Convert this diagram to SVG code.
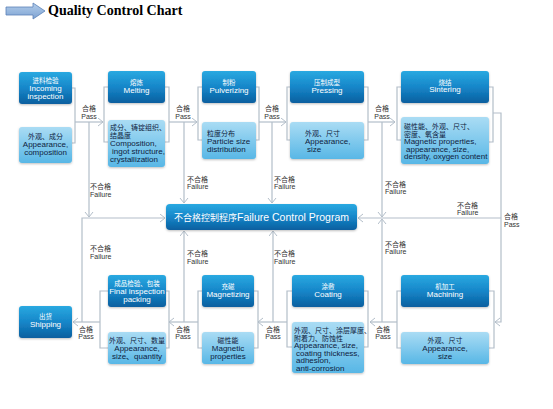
<svg xmlns="http://www.w3.org/2000/svg" width="553" height="409" viewBox="0 0 553 409">
<defs>
<linearGradient id="gd" x1="0" y1="0" x2="0" y2="1">
<stop offset="0" stop-color="#2aa9e1"/><stop offset="0.5" stop-color="#1686c9"/><stop offset="1" stop-color="#0a5f9f"/>
</linearGradient>
<linearGradient id="gl" x1="0" y1="0" x2="0" y2="1">
<stop offset="0" stop-color="#aadcf4"/><stop offset="1" stop-color="#58b7e6"/>
</linearGradient>
<linearGradient id="ga" x1="0" y1="0" x2="0" y2="1">
<stop offset="0" stop-color="#b3cdea"/><stop offset="1" stop-color="#7ea3d3"/>
</linearGradient>
<filter id="sh" x="-10%" y="-10%" width="120%" height="130%">
<feDropShadow dx="0" dy="1" stdDeviation="0.8" flood-color="#000" flood-opacity="0.25"/>
</filter>
<marker id="arr" markerWidth="8" markerHeight="10" refX="6" refY="4.5" orient="auto" markerUnits="userSpaceOnUse">
<path d="M1,0.5 L6,4.5 L1,8.5" fill="none" stroke="#b3bec9" stroke-width="1"/>
</marker>
</defs>
<style>
.dk{fill:url(#gd);filter:url(#sh)}
.lt{fill:url(#gl);filter:url(#sh)}
.t{font-family:"Liberation Sans","Noto Sans CJK SC",sans-serif}
.w{fill:#ffffff;font-size:8px;text-anchor:middle}
.wc{fill:#ffffff;font-size:6.5px;text-anchor:middle}
.b{fill:#0f2240;font-size:8px}
.bc{fill:#0f2240;font-size:7px}
.m{text-anchor:middle}
.lb{fill:#333333;font-size:7px}
.ln{fill:none;stroke:#b3bec9;stroke-width:1.2}
</style>
<rect width="553" height="409" fill="#ffffff"/>

<g id="title">
<path d="M6,7 H33 V3 L45,11 L33,19 V15 H6 Z" fill="url(#ga)" stroke="#5a82b8" stroke-width="0.8"/>
<text x="48" y="14.5" font-family="'Liberation Serif',serif" font-weight="bold" font-size="14" fill="#000">Quality Control Chart</text>
</g>

<g id="connectors">
<path class="ln" d="M72,88 H75 V143 H72"/>
<path class="ln" d="M75,122 H103" marker-end="url(#arr)"/>
<path class="ln" d="M108,87 H104 V142 H108"/>
<path class="ln" d="M165,87 H169 V142 H165"/>
<path class="ln" d="M169,122 H197" marker-end="url(#arr)"/>
<path class="ln" d="M202,87 H198 V140 H202"/>
<path class="ln" d="M256,87 H259 V140 H256"/>
<path class="ln" d="M259,122 H286" marker-end="url(#arr)"/>
<path class="ln" d="M290,87 H287 V140 H290"/>
<path class="ln" d="M364,87 H368 V140 H364"/>
<path class="ln" d="M368,122 H395" marker-end="url(#arr)"/>
<path class="ln" d="M401,87 H397 V140 H401"/>
<path class="ln" d="M489,87 H493 V142 H489"/>
<path class="ln" d="M493,113 H501 V322 H495" marker-end="url(#arr)"/>
<path class="ln" d="M89,122 V217" marker-end="url(#arr)"/>
<path class="ln" d="M184,122 V203" marker-end="url(#arr)"/>
<path class="ln" d="M272,122 V203" marker-end="url(#arr)"/>
<path class="ln" d="M382,122 V217" marker-end="url(#arr)"/>
<path class="ln" d="M501,218 H358" marker-end="url(#arr)"/>
<path class="ln" d="M82,322 V218 H165" marker-end="url(#arr)"/>
<path class="ln" d="M489,291 H494 V348 H489"/>
<path class="ln" d="M401,291 H397 V348 H401"/>
<path class="ln" d="M397,322 H370" marker-end="url(#arr)"/>
<path class="ln" d="M382,322 V219" marker-end="url(#arr)"/>
<path class="ln" d="M364,291 H368 V347 H364"/>
<path class="ln" d="M292,291 H287 V347 H292"/>
<path class="ln" d="M287,322 H258" marker-end="url(#arr)"/>
<path class="ln" d="M273,322 V231" marker-end="url(#arr)"/>
<path class="ln" d="M254,291 H258 V348 H254"/>
<path class="ln" d="M202,291 H198 V348 H202"/>
<path class="ln" d="M198,322 H169" marker-end="url(#arr)"/>
<path class="ln" d="M184,322 V231" marker-end="url(#arr)"/>
<path class="ln" d="M166,291 H169 V348 H166"/>
<path class="ln" d="M108,291 H100 V348 H108"/>
<path class="ln" d="M100,322 H73" marker-end="url(#arr)"/>
</g>

<g id="labels" class="t">
<text class="lb m" x="89" y="111">合格</text><text class="lb m" x="89" y="119">Pass</text>
<text class="lb m" x="183" y="111">合格</text><text class="lb m" x="183" y="119">Pass</text>
<text class="lb m" x="272" y="111">合格</text><text class="lb m" x="272" y="119">Pass</text>
<text class="lb m" x="382" y="111">合格</text><text class="lb m" x="382" y="119">Pass</text>
<text class="lb" x="90" y="189">不合格</text><text class="lb" x="90" y="197">Failure</text>
<text class="lb" x="187" y="182">不合格</text><text class="lb" x="187" y="189">Failure</text>
<text class="lb" x="274" y="182">不合格</text><text class="lb" x="274" y="189">Failure</text>
<text class="lb" x="385" y="187">不合格</text><text class="lb" x="385" y="194">Failure</text>
<text class="lb" x="457" y="208">不合格</text><text class="lb" x="457" y="215">Failure</text>
<text class="lb" x="504" y="219">合格</text><text class="lb" x="504" y="227">Pass</text>
<text class="lb" x="90" y="251">不合格</text><text class="lb" x="90" y="259">Failure</text>
<text class="lb" x="187" y="256">不合格</text><text class="lb" x="187" y="264">Failure</text>
<text class="lb" x="274" y="256">不合格</text><text class="lb" x="274" y="264">Failure</text>
<text class="lb" x="385" y="247">不合格</text><text class="lb" x="385" y="254">Failure</text>
<text class="lb m" x="86" y="332">合格</text><text class="lb m" x="86" y="339">Pass</text>
<text class="lb m" x="183" y="332">合格</text><text class="lb m" x="183" y="339">Pass</text>
<text class="lb m" x="273" y="332">合格</text><text class="lb m" x="273" y="339">Pass</text>
<text class="lb m" x="383" y="332">合格</text><text class="lb m" x="383" y="339">Pass</text>
</g>

<g id="incoming" class="t">
<rect class="dk" x="19" y="72" width="53" height="32" rx="3"/>
<text class="wc" x="45.5" y="83">进料检验</text>
<text class="w" x="45.5" y="91">Incoming</text>
<text class="w" x="45.5" y="99">inspection</text>
</g>
<g id="incoming-check" class="t">
<rect class="lt" x="19" y="127" width="53" height="36" rx="3"/>
<text class="bc m" x="45.5" y="139">外观、成分</text>
<text class="b m" x="45.5" y="146.5">Appearance,</text>
<text class="b m" x="45.5" y="154.5">composition</text>
</g>

<g id="melting" class="t">
<rect class="dk" x="108" y="71" width="57" height="32" rx="3"/>
<text class="wc" x="136.5" y="85">熔炼</text>
<text class="w" x="136.5" y="92.5">Melting</text>
</g>
<g id="melting-check" class="t">
<rect class="lt" x="108" y="120" width="57" height="47" rx="3"/>
<text class="bc" x="110" y="130">成分、铸锭组织、</text>
<text class="bc" x="110" y="138">结晶度</text>
<text class="b" x="110" y="146">Composition,</text>
<text class="b" x="112" y="154">ingot structure,</text>
<text class="b" x="110" y="162">crystallization</text>
</g>

<g id="pulverizing" class="t">
<rect class="dk" x="202" y="71" width="54" height="32" rx="3"/>
<text class="wc" x="229" y="85">制粉</text>
<text class="w" x="229" y="92.5">Pulverizing</text>
</g>
<g id="pulverizing-check" class="t">
<rect class="lt" x="202" y="122" width="54" height="37" rx="3"/>
<text class="bc" x="207" y="136">粒度分布</text>
<text class="b" x="207" y="144">Particle size</text>
<text class="b" x="207" y="152">distribution</text>
</g>

<g id="pressing" class="t">
<rect class="dk" x="290" y="71" width="74" height="32" rx="3"/>
<text class="wc" x="327" y="85">压制成型</text>
<text class="w" x="327" y="92.5">Pressing</text>
</g>
<g id="pressing-check" class="t">
<rect class="lt" x="290" y="122" width="74" height="37" rx="3"/>
<text class="bc" x="305" y="136">外观、尺寸</text>
<text class="b" x="305" y="144">Appearance,</text>
<text class="b" x="307" y="152">size</text>
</g>

<g id="sintering" class="t">
<rect class="dk" x="401" y="71" width="88" height="32" rx="3"/>
<text class="wc" x="445" y="84.5">烧结</text>
<text class="w" x="445" y="92">Sintering</text>
</g>
<g id="sintering-check" class="t">
<rect class="lt" x="401" y="117" width="88" height="47" rx="3"/>
<text class="bc" x="404" y="129">磁性能、外观、尺寸、</text>
<text class="bc" x="404" y="136.5">密度、氧含量</text>
<text class="b" x="404" y="144">Magnetic properties,</text>
<text class="b" x="406" y="151.5">appearance, size,</text>
<text class="b" x="404" y="159">density, oxygen content</text>
</g>

<g id="failure-control" class="t">
<rect class="dk" x="166" y="204" width="191" height="26" rx="4"/>
<text x="261.5" y="221" fill="#ffffff" text-anchor="middle"><tspan font-size="9">不合格控制程序</tspan><tspan font-size="10.5">Failure Control Program</tspan></text>
</g>

<g id="shipping" class="t">
<rect class="dk" x="19" y="306" width="53" height="32" rx="3"/>
<text class="wc" x="45.5" y="319">出货</text>
<text class="w" x="45.5" y="327">Shipping</text>
</g>

<g id="final-inspection" class="t">
<rect class="dk" x="108" y="275" width="58" height="32" rx="3"/>
<text class="wc" x="137" y="286">成品检验、包装</text>
<text class="w" x="137" y="294">Final inspection</text>
<text class="w" x="137" y="302">packing</text>
</g>
<g id="final-check" class="t">
<rect class="lt" x="108" y="332" width="58" height="32" rx="3"/>
<text class="bc m" x="137" y="343">外观、尺寸、数量</text>
<text class="b m" x="137" y="351">Appearance,</text>
<text class="b m" x="137" y="359">size、quantity</text>
</g>

<g id="magnetizing" class="t">
<rect class="dk" x="202" y="275" width="52" height="32" rx="3"/>
<text class="wc" x="228" y="289">充磁</text>
<text class="w" x="228" y="296.5">Magnetizing</text>
</g>
<g id="magnetizing-check" class="t">
<rect class="lt" x="202" y="332" width="52" height="32" rx="3"/>
<text class="bc m" x="228" y="343">磁性能</text>
<text class="b m" x="228" y="351">Magnetic</text>
<text class="b m" x="228" y="359">properties</text>
</g>

<g id="coating" class="t">
<rect class="dk" x="292" y="275" width="72" height="32" rx="3"/>
<text class="wc" x="328" y="289">涂敷</text>
<text class="w" x="328" y="296.5">Coating</text>
</g>
<g id="coating-check" class="t">
<rect class="lt" x="292" y="322" width="72" height="51" rx="3"/>
<text class="bc" x="294" y="333">外观、尺寸、涂层厚度、</text>
<text class="bc" x="294" y="340.5">附着力、防蚀性</text>
<text class="b" x="294" y="348">Appearance, size,</text>
<text class="b" x="296" y="355.5">coating thickness,</text>
<text class="b" x="296" y="363">adhesion,</text>
<text class="b" x="296" y="370.5">anti-corrosion</text>
</g>

<g id="machining" class="t">
<rect class="dk" x="401" y="275" width="88" height="32" rx="3"/>
<text class="wc" x="445" y="289">机加工</text>
<text class="w" x="445" y="296.5">Machining</text>
</g>
<g id="machining-check" class="t">
<rect class="lt" x="401" y="332" width="88" height="32" rx="3"/>
<text class="bc m" x="445" y="343">外观、尺寸</text>
<text class="b m" x="445" y="351">Appearance,</text>
<text class="b m" x="445" y="359">size</text>
</g>
</svg>
